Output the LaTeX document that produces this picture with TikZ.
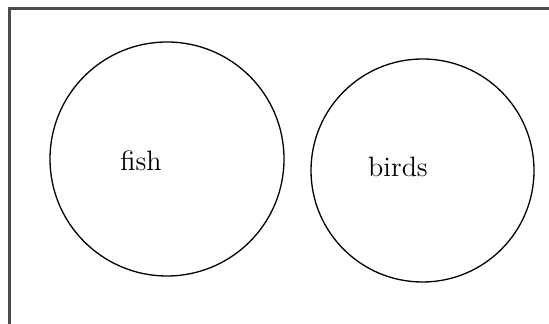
\documentclass[tikz,border=0pt]{standalone}
\usepackage{tikz}
\usetikzlibrary{positioning}

\begin{document}
\begin{tikzpicture}[x = 0.5pt, y = -0.5pt]
\useasboundingbox (0,0) rectangle (549,324);
\clip (0,0) rectangle (549,324);
\draw [line width = 1.1pt, black!70] (9.5,330) -- (9.5,8.5) -- (555,8.5);
\draw [line width = 0.65pt] (167,159) circle (58.5pt);
\draw [line width = 0.65pt] (422.5,170.5) circle (55.75pt);
\node [font = \fontsize{14}{16}\selectfont] (fish) at (141,161) {fish};
\node [font = \fontsize{14}{16}\selectfont] (birds) at (398,167) {birds};
\end{tikzpicture}
\end{document}
